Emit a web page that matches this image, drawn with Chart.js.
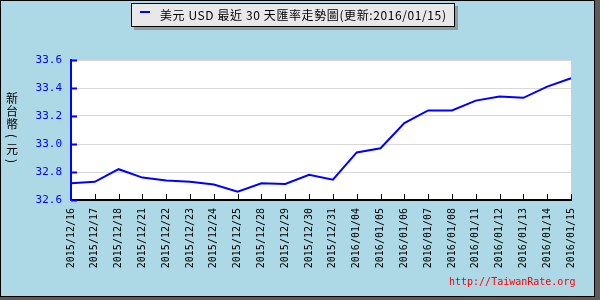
<!DOCTYPE html>
<html>
<head>
<meta charset="utf-8">
<script src="https://cdn.jsdelivr.net/npm/chart.js@4/dist/chart.umd.min.js"></script>
<style>
  html, body { margin: 0; padding: 0; }
  #frame { position: relative; width: 600px; height: 300px; background: #5c5c5c; overflow: hidden; }
  #panel { position: absolute; left: 0; top: 0; width: 595px; height: 297px; box-sizing: border-box;
           border: 1px solid #000; background: #add8e6; }
  #chart { position: absolute; left: 0; top: 0; }
  #title { position: absolute; left: 131px; top: 3px; width: 324px; height: 24px; box-sizing: border-box;
           border: 1px solid #000; background: #e8e8e8; box-shadow: 3px 3px 0 #8c9ca1;
           font: 12px "Noto Sans CJK TC", sans-serif; line-height: 22px; color: #000; white-space: nowrap; }
  #title .dash { position: absolute; left: 8px; top: 7px; width: 10px; height: 2px; background: #0000ff; }
  #title .txt { position: absolute; left: 28px; top: 0; letter-spacing: 0.6px; }
  #ytitle { position: absolute; left: 5px; top: 91px; width: 14px;
            font: 12px "Noto Sans CJK TC", sans-serif; color: #000; text-align: center; }
  #ytitle span { display: block; height: 13px; line-height: 13px; }
  #ytitle span.p { height: 12px; line-height: 12px; transform: rotate(90deg); }
  #site { position: absolute; left: 449px; top: 276px; font: 10px "DejaVu Sans Mono", monospace; color: #ff0000; }
</style>
</head>
<body>
<div id="frame">
  <div id="panel"></div>
  <canvas id="chart" width="600" height="300"></canvas>
  <div id="title"><span class="dash"></span><span class="txt">美元 USD 最近 30 天匯率走勢圖(更新:2016/01/15)</span></div>
  <div id="ytitle"><span>新</span><span>台</span><span>幣</span><span class="p">(</span><span>元</span><span class="p">)</span></div>
  <div id="site">http://TaiwanRate.org</div>
</div>
<script>
const dates = [
  "2015/12/16", "2015/12/17", "2015/12/18", "2015/12/21", "2015/12/22", "2015/12/23",
  "2015/12/24", "2015/12/25", "2015/12/28", "2015/12/29", "2015/12/30", "2015/12/31",
  "2016/01/04", "2016/01/05", "2016/01/06", "2016/01/07", "2016/01/08", "2016/01/11",
  "2016/01/12", "2016/01/13", "2016/01/14", "2016/01/15"
];
const usdRate = [
  32.72, 32.73, 32.82, 32.76, 32.74, 32.73, 32.71, 32.66, 32.72, 32.715, 32.78,
  32.745, 32.94, 32.97, 33.15, 33.24, 33.24, 33.31, 33.34, 33.33, 33.41, 33.47
];
const yMin = 32.6;
const yMax = 33.6;
const yStep = 0.1;

// white plot area + short ticks pointing into the plot
const plotDecor = {
  id: "plotDecor",
  beforeDraw(chart) {
    const a = chart.chartArea;
    const ctx = chart.ctx;
    ctx.save();
    ctx.fillStyle = "#ffffff";
    ctx.fillRect(a.left, a.top, a.right - a.left, a.bottom - a.top);
    ctx.restore();
  },
  afterDraw(chart) {
    const a = chart.chartArea;
    const ctx = chart.ctx;
    const x = chart.scales.x;
    const y = chart.scales.y;
    ctx.save();
    ctx.strokeStyle = "#0000ff";
    ctx.lineWidth = 2;
    y.ticks.forEach((t, i) => {
      const py = Math.round(y.getPixelForTick(i)) + 0.5;
      ctx.beginPath();
      ctx.moveTo(a.left, py);
      ctx.lineTo(a.left + 6, py);
      ctx.stroke();
    });
    ctx.strokeStyle = "#000000";
    ctx.lineWidth = 1;
    x.ticks.forEach((t, i) => {
      if (i === 0) return;
      const px = Math.round(x.getPixelForTick(i)) + 0.5;
      ctx.beginPath();
      ctx.moveTo(px, a.bottom);
      ctx.lineTo(px, a.bottom - 6);
      ctx.stroke();
    });
    ctx.restore();
  }
};

new Chart(document.getElementById("chart"), {
  type: "line",
  data: {
    labels: dates,
    datasets: [{
      label: "美元 USD",
      data: usdRate,
      borderColor: "#0000ff",
      borderWidth: 2,
      pointRadius: 0,
      tension: 0,
      fill: false
    }]
  },
  options: {
    responsive: false,
    animation: false,
    layout: { padding: { top: 60, right: 29, left: 0, bottom: 0 } },
    plugins: {
      legend: { display: false },
      tooltip: { enabled: false }
    },
    scales: {
      x: {
        afterFit(scale) { scale.height = 100; },
        grid: { drawOnChartArea: false, drawTicks: false },
        border: { color: "#000000", width: 2 },
        ticks: {
          autoSkip: false,
          minRotation: 90,
          maxRotation: 90,
          padding: 8,
          color: "#000000",
          font: { family: "DejaVu Sans Mono", size: 10 }
        }
      },
      y: {
        min: yMin,
        max: yMax,
        afterFit(scale) { scale.width = 71; },
        grid: { color: "#d8d8d8", lineWidth: 1, drawTicks: false },
        border: { color: "#0000ff", width: 2 },
        ticks: {
          stepSize: yStep,
          padding: 9,
          color: "#0000ff",
          font: { family: "DejaVu Sans Mono", size: 11 },
          callback: (v) => Math.round(v * 10) % 2 === 0 ? v.toFixed(1) : ""
        }
      }
    }
  },
  plugins: [plotDecor]
});
</script>
</body>
</html>
